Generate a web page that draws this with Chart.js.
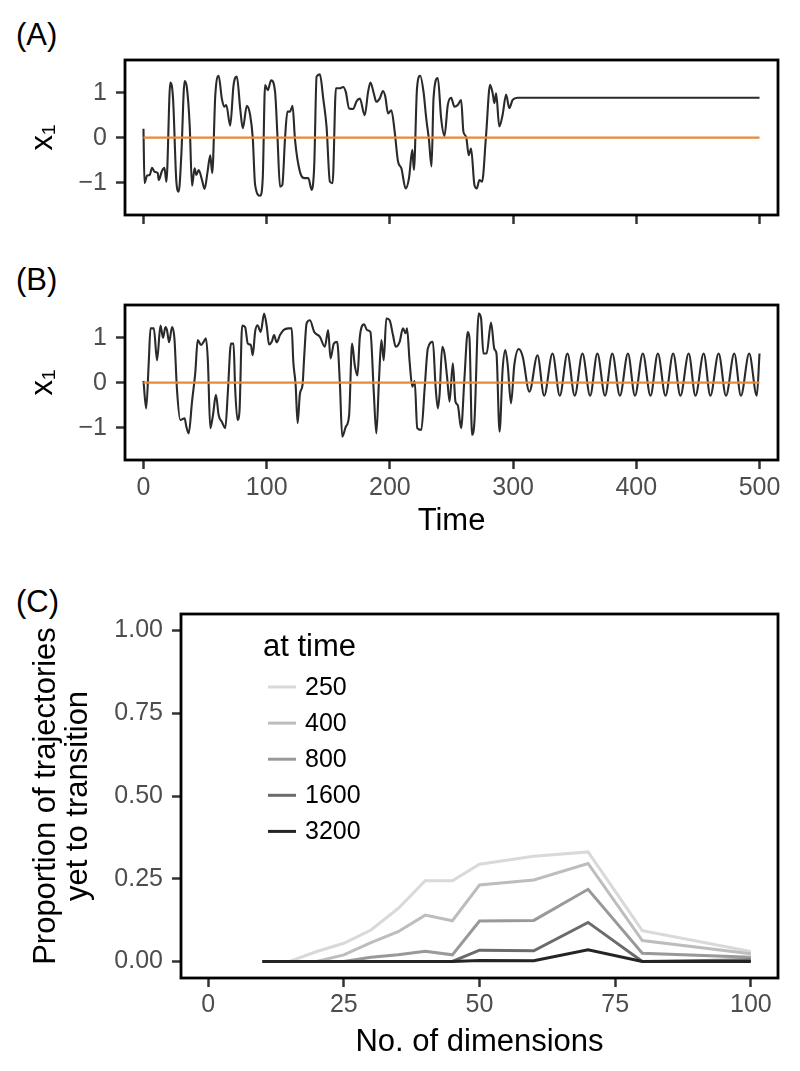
<!DOCTYPE html>
<html>
<head>
<meta charset="utf-8">
<script src="https://cdn.jsdelivr.net/npm/chart.js@4.4.1/dist/chart.umd.min.js"></script>
<style>
  body { margin: 0; background: #fff; width: 800px; height: 1071px; position: relative; overflow: hidden;
         font-family: "Liberation Sans", Arial, sans-serif; }
  canvas { position: absolute; left: 0; }
  .tag { position: absolute; left: 16px; font-size: 31px; line-height: 31px; color: #000; }
</style>
</head>
<body>
<div class="tag" style="top:19px">(A)</div>
<div class="tag" style="top:264px">(B)</div>
<div class="tag" style="top:586px">(C)</div>
<canvas id="chartA" width="800" height="240" style="top:0"></canvas>
<canvas id="chartB" width="800" height="300" style="top:245px"></canvas>
<canvas id="chartC" width="800" height="491" style="top:580px"></canvas>
<script>
// ---- data ----
var timeTicks = [0, 100, 200, 300, 400, 500];
var x1Ticks = [-1, 0, 1];
var refTime = [0, 500];
var refLevel = [0, 0];

// (A) trajectory that settles on a fixed point
var tA = [0, 0.8, 3, 5, 7, 9, 11.6, 12.4, 15, 17, 18.6, 21.8, 24, 26.7, 28.6, 30.7, 33.4, 35.3, 37.5, 39.4,
  41.5, 42.9, 44.8, 47.5, 49.6, 52, 54.2, 55.8, 58.3, 61, 63.6, 65.5, 67.2, 70.4, 73.1, 75.8, 78.5, 80.6,
  83.9, 86.6, 88.7, 90.6, 94.7, 96.8, 98.7, 100.9, 103.6, 106.8, 108.7, 110.8, 112.7, 114.9, 116.8, 118.9,
  121, 123, 127, 131, 133.8, 136.5, 138.6, 140.5, 143.2, 145.9, 148.6, 151.3, 153.5, 156.2, 159.4, 162,
  164.2, 166.9, 170.2, 172.9, 175.6, 179.6, 182.3, 184.2, 186.9, 189, 191.7, 194.4, 196.3, 198.5, 201.2,
  203.9, 206.6, 209.3, 212.8, 215.5, 218.2, 219.5, 222, 224.6, 227.3, 229.5, 231.7, 233.8, 235.4, 238.9,
  241.6, 244.3, 247, 249.7, 252.4, 255.1, 257.8, 259.7, 261.9, 264, 265.9, 268.6, 270.5, 272.7, 274.8,
  278, 281.3, 283.4, 284.8, 286.2, 288.8, 291.5, 294.3, 296.9, 299.6, 303.7, 310, 400, 500];
var x1A = [0.2, -1.01, -0.84, -0.83, -0.67, -0.76, -0.79, -0.94, -0.74, -0.67, -0.98, 1.23, 0.87, -0.98, -1.2,
  -0.39, 1.26, 1.1, 0.28, -1.07, -0.68, -0.83, -0.72, -0.94, -1.14, -0.76, -0.39, -0.79, 0.95, 1.38, 0.87,
  0.69, 0.73, 0.27, 1.17, 1.36, 0.65, 0.21, 0.71, 0.5, -0.01, -1.05, -1.29, -0.9, 1.17, 1.06, 1.28, 1.02,
  0.06, -1.09, -1.05, -0.01, 0.58, 0.58, 0.71, -0.05, -0.76, -0.9, -0.9, -1.16, -0.61, 1.36, 1.41, 0.87,
  0.24, -0.98, -1.01, 1.1, 1.1, 1.13, 1.02, 0.65, 0.64, 0.81, 0.87, 0.5, 1.02, 1.23, 0.99, 0.8, 0.87, 1.04,
  0.91, 0.54, 0.61, 0.13, -0.53, -0.68, -1.13, -0.9, -0.27, -0.72, 1.1, 1.38, 1.02, 0.43, -0.05, -0.64,
  0.87, 1.33, 0.43, 0.04, 0.73, 0.89, 0.69, 0.73, 0.84, 0.13, 0.02, -0.39, -0.24, -1.05, -1.13, -0.94,
  -0.98, 0.03, 1.18, 0.99, 0.77, 0.99, 0.25, 0.51, 0.96, 0.66, 0.84, 0.89, 0.89, 0.89, 0.89];

// (B) trajectory that settles on a limit cycle
var tB = [0, 2.2, 4.3, 5.7, 8.4, 11, 13.8, 15.9, 17.8, 19.1, 20.8, 23.2, 25.1, 27.2, 29.9, 33.4, 34.8, 36.7,
  39.4, 42.1, 44, 46.7, 48.8, 50.7, 52.3, 54.2, 56.4, 58.8, 61, 63.6, 66.4, 68.5, 71, 73.1, 74.4, 76.3,
  77.9, 80.1, 82.5, 84.7, 87.1, 88.7, 90.6, 92.5, 95.2, 97.9, 100.1, 101.9, 104.1, 106, 108.1, 110.8,
  113.5, 117.6, 120.3, 121.6, 123.5, 125.1, 127, 129.1, 130.5, 132.4, 135.1, 138.6, 143.2, 147.2, 149.9,
  151.8, 154.5, 157.2, 159.4, 161.3, 164.2, 166.9, 169.3, 171.5, 173.7, 175.6, 179.1, 181.5, 184.2,
  186.9, 189, 191.2, 193.1, 195, 197.1, 199.8, 202.5, 204.7, 207.9, 210.6, 212.8, 213.9, 216, 218.2,
  220.1, 222.2, 225.5, 228.2, 230.8, 234.9, 237, 238.9, 240.3, 242.5, 244.3, 246.5, 248.4, 251.1, 253.2,
  255.1, 257.8, 260.5, 263.2, 264.6, 266.7, 268.6, 272.1, 274, 275.9, 278.5, 282.1, 284.8, 286.5, 289,
  291.5, 293.7, 295.6, 298.3, 301, 304.6, 307.8, 313.2, 319.8, 325.2, 332, 337.9, 344.1, 350, 356.3,
  362.5, 368.4, 374.6, 380.5, 386.7, 393.2, 398.9, 405.3, 411.5, 417.5, 423.7, 429.9, 435.8, 442.5, 448,
  454.7, 460.1, 466.8, 472.8, 479.5, 484.9, 491.6, 497.8, 500];
var x1B = [0.04, -0.57, 0.47, 1.21, 1.21, 0.5, 1.27, 1.0, 1.24, 1.17, 0.9, 1.24, 0.99, -0.16, -0.83, -0.79,
  -0.98, -1.13, -0.42, 0.24, 0.95, 0.84, 0.91, 0.99, 0.47, -1.01, -0.72, -0.27, -0.72, -0.87, -1.01, -0.2,
  0.87, 0.87, -0.13, -0.83, -0.64, 1.27, 1.24, 0.87, 0.84, 0.61, 1.13, 1.28, 1.13, 1.54, 1.24, 0.85, 0.91,
  1.06, 0.9, 1.06, 1.17, 1.21, 1.21, 0.47, -0.05, -0.9, -0.24, -0.05, 0.61, 1.32, 1.39, 1.13, 1.02, 0.8,
  1.17, 0.54, 0.87, 0.91, -0.01, -1.2, -0.98, -0.72, 0.87, 0.39, 0.16, 1.02, 1.3, 1.17, 1.13, -0.2, -1.13,
  0.1, 0.95, 0.5, 1.43, 1.39, 1.06, 0.8, 0.91, 1.21, 1.1, 1.21, 0.47, -0.09, 0.04, -1.01, -1.05, -0.13,
  0.76, 0.91, -0.05, -0.57, -0.27, 0.8, 0.65, 0.1, -0.42, 0.43, -0.42, -0.5, -1.01, 0.1, 1.13, 0.99,
  -1.16, -0.87, 1.54, 1.43, 0.65, 0.65, 1.34, 0.75, 0.65, -1.09, 0.3, 0.73, 0.4, -0.46, 0.4, 0.75, 0.58,
  -0.2, 0.61, -0.29, 0.65, -0.29, 0.65, -0.29, 0.65, -0.29, 0.65, -0.29, 0.65, -0.29, 0.65, -0.29, 0.65,
  -0.29, 0.65, -0.29, 0.65, -0.29, 0.65, -0.29, 0.65, -0.29, 0.65, -0.29, 0.65, -0.29, 0.65, -0.29,
  0.65, -0.29, 0.36];

// (C) proportion of trajectories yet to transition
var dims = [10, 15, 20, 25, 30, 35, 40, 45, 50, 60, 70, 80, 100];
var dimTicks = [0, 25, 50, 75, 100];
var propTicks = [0, 0.25, 0.5, 0.75, 1];
var atTimes = ['250', '400', '800', '1600', '3200'];
var prop250 = [0, 0, 0.03, 0.055, 0.095, 0.16, 0.244, 0.244, 0.294, 0.318, 0.331, 0.093, 0.03];
var prop400 = [0, 0, 0, 0.02, 0.057, 0.09, 0.14, 0.123, 0.231, 0.246, 0.296, 0.063, 0.023];
var prop800 = [0, 0, 0, 0, 0.013, 0.02, 0.031, 0.02, 0.122, 0.124, 0.218, 0.025, 0.013];
var prop1600 = [0, 0, 0, 0, 0, 0, 0, 0, 0.034, 0.032, 0.118, 0, 0.005];
var prop3200 = [0, 0, 0, 0, 0, 0, 0, 0, 0.003, 0.002, 0.035, 0, 0];
var greys = ['#d9d9d9', '#bdbdbd', '#999999', '#6b6b6b', '#242424'];

// ---- helpers ----
var FONT = '"Liberation Sans", Arial, sans-serif';
Chart.defaults.font.family = FONT;

function pairs(xs, ys) {
  return xs.map(function(x, i) { return {x: x, y: ys[i]}; });
}
function fixTicks(list) {
  return function(scale) { scale.ticks = list.map(function(v) { return {value: v}; }); };
}
function minus(v) { return v < 0 ? '\u2212' + Math.abs(v) : String(v); }

var framePlugin = {
  id: 'panelFrame',
  afterDatasetsDraw: function(chart) {
    var a = chart.chartArea, ctx = chart.ctx;
    ctx.save();
    ctx.strokeStyle = '#000';
    ctx.lineWidth = 2.8;
    ctx.strokeRect(a.left, a.top, a.right - a.left, a.bottom - a.top);
    ctx.restore();
  }
};

var tickGrid = { drawOnChartArea: false, drawTicks: true, tickLength: 9, tickColor: '#333', tickWidth: 2.5 };

function timeChart(id, t, x1, opts) {
  var ctx = document.getElementById(id).getContext('2d');
  return new Chart(ctx, {
    type: 'line',
    data: {
      datasets: [
        { data: pairs(refTime, refLevel), borderColor: '#e8893a', borderWidth: 2.3, order: 0 },
        { data: pairs(t, x1), borderColor: '#2a2a2a', borderWidth: 2.1, cubicInterpolationMode: 'monotone', order: 1 }
      ]
    },
    options: {
      responsive: false,
      animation: false,
      events: [],
      layout: { padding: { top: 60, right: 22, left: 0, bottom: 0 } },
      elements: { point: { radius: 0 } },
      plugins: { legend: { display: false }, tooltip: { enabled: false } },
      scales: {
        x: {
          type: 'linear', min: -15, max: 515,
          afterBuildTicks: fixTicks(timeTicks),
          afterFit: function(s) { s.height = opts.xHeight; s.paddingLeft = 0; s.paddingRight = 0; },
          grid: tickGrid,
          border: { display: false },
          ticks: { display: opts.showX, color: '#4d4d4d', font: { size: 25 }, padding: 4, maxRotation: 0,
                   callback: function(v) { return String(v); } },
          title: { display: opts.showX, text: 'Time', color: '#000', font: { size: 31 }, padding: { bottom: 5 } }
        },
        y: {
          type: 'linear', min: -1.72, max: 1.73,
          afterBuildTicks: fixTicks(x1Ticks),
          afterFit: function(s) { s.width = 125; s.paddingTop = 0; s.paddingBottom = 0; },
          grid: tickGrid,
          border: { display: false },
          ticks: { color: '#4d4d4d', font: { size: 25 }, padding: 9, callback: minus },
          title: { display: true, text: 'x\u2081', color: '#000', font: { size: 31 }, padding: { top: 25 } }
        }
      }
    },
    plugins: [framePlugin]
  });
}

timeChart('chartA', tA, x1A, { xHeight: 25, showX: false });
timeChart('chartB', tB, x1B, { xHeight: 85, showX: true });

// legend drawn inside the panel, ggplot style
var legendPlugin = {
  id: 'insideLegend',
  afterDatasetsDraw: function(chart) {
    var a = chart.chartArea, ctx = chart.ctx;
    ctx.save();
    ctx.fillStyle = '#000';
    ctx.textBaseline = 'middle';
    ctx.textAlign = 'left';
    ctx.font = '31px ' + FONT;
    ctx.fillText('at time', a.left + 82, a.top + 33);
    ctx.font = '25px ' + FONT;
    chart.data.datasets.forEach(function(ds, i) {
      var y = a.top + 73 + i * 36.1;
      ctx.strokeStyle = ds.borderColor;
      ctx.lineWidth = 3;
      ctx.beginPath();
      ctx.moveTo(a.left + 87, y);
      ctx.lineTo(a.left + 115, y);
      ctx.stroke();
      ctx.fillText(ds.label, a.left + 124, y + 1);
    });
    ctx.restore();
  }
};

var propSeries = [prop250, prop400, prop800, prop1600, prop3200];
var ctxC = document.getElementById('chartC').getContext('2d');
var chartC = new Chart(ctxC, {
  type: 'line',
  data: {
    datasets: atTimes.map(function(lbl, i) {
      return { label: lbl, data: pairs(dims, propSeries[i]), borderColor: greys[i], borderWidth: 3,
               tension: 0, order: atTimes.length - i };
    })
  },
  options: {
    responsive: false,
    animation: false,
    events: [],
    layout: { padding: { top: 34, right: 22, left: 0, bottom: 0 } },
    elements: { point: { radius: 0 }, line: { borderJoinStyle: 'miter' } },
    plugins: { legend: { display: false }, tooltip: { enabled: false } },
    scales: {
      x: {
        type: 'linear', min: -5, max: 105,
        afterBuildTicks: fixTicks(dimTicks),
        afterFit: function(s) { s.height = 93; s.paddingLeft = 0; s.paddingRight = 0; },
        grid: tickGrid,
        border: { display: false },
        ticks: { color: '#4d4d4d', font: { size: 25 }, padding: 3, maxRotation: 0,
                 callback: function(v) { return String(v); } },
        title: { display: true, text: 'No. of dimensions', color: '#000', font: { size: 31 }, padding: { bottom: 10 } }
      },
      y: {
        type: 'linear', min: -0.05, max: 1.05,
        afterBuildTicks: fixTicks(propTicks),
        afterFit: function(s) { s.width = 181; s.paddingTop = 0; s.paddingBottom = 0; },
        grid: tickGrid,
        border: { display: false },
        ticks: { color: '#4d4d4d', font: { size: 25 }, padding: 9, callback: function(v) { return v.toFixed(2); } },
        title: { display: true, text: ['Proportion of trajectories', 'yet to transition'], color: '#000',
                 font: { size: 31, lineHeight: 1.02 }, padding: { top: 31 } }
      }
    }
  },
  plugins: [framePlugin, legendPlugin]
});
</script>
</body>
</html>
